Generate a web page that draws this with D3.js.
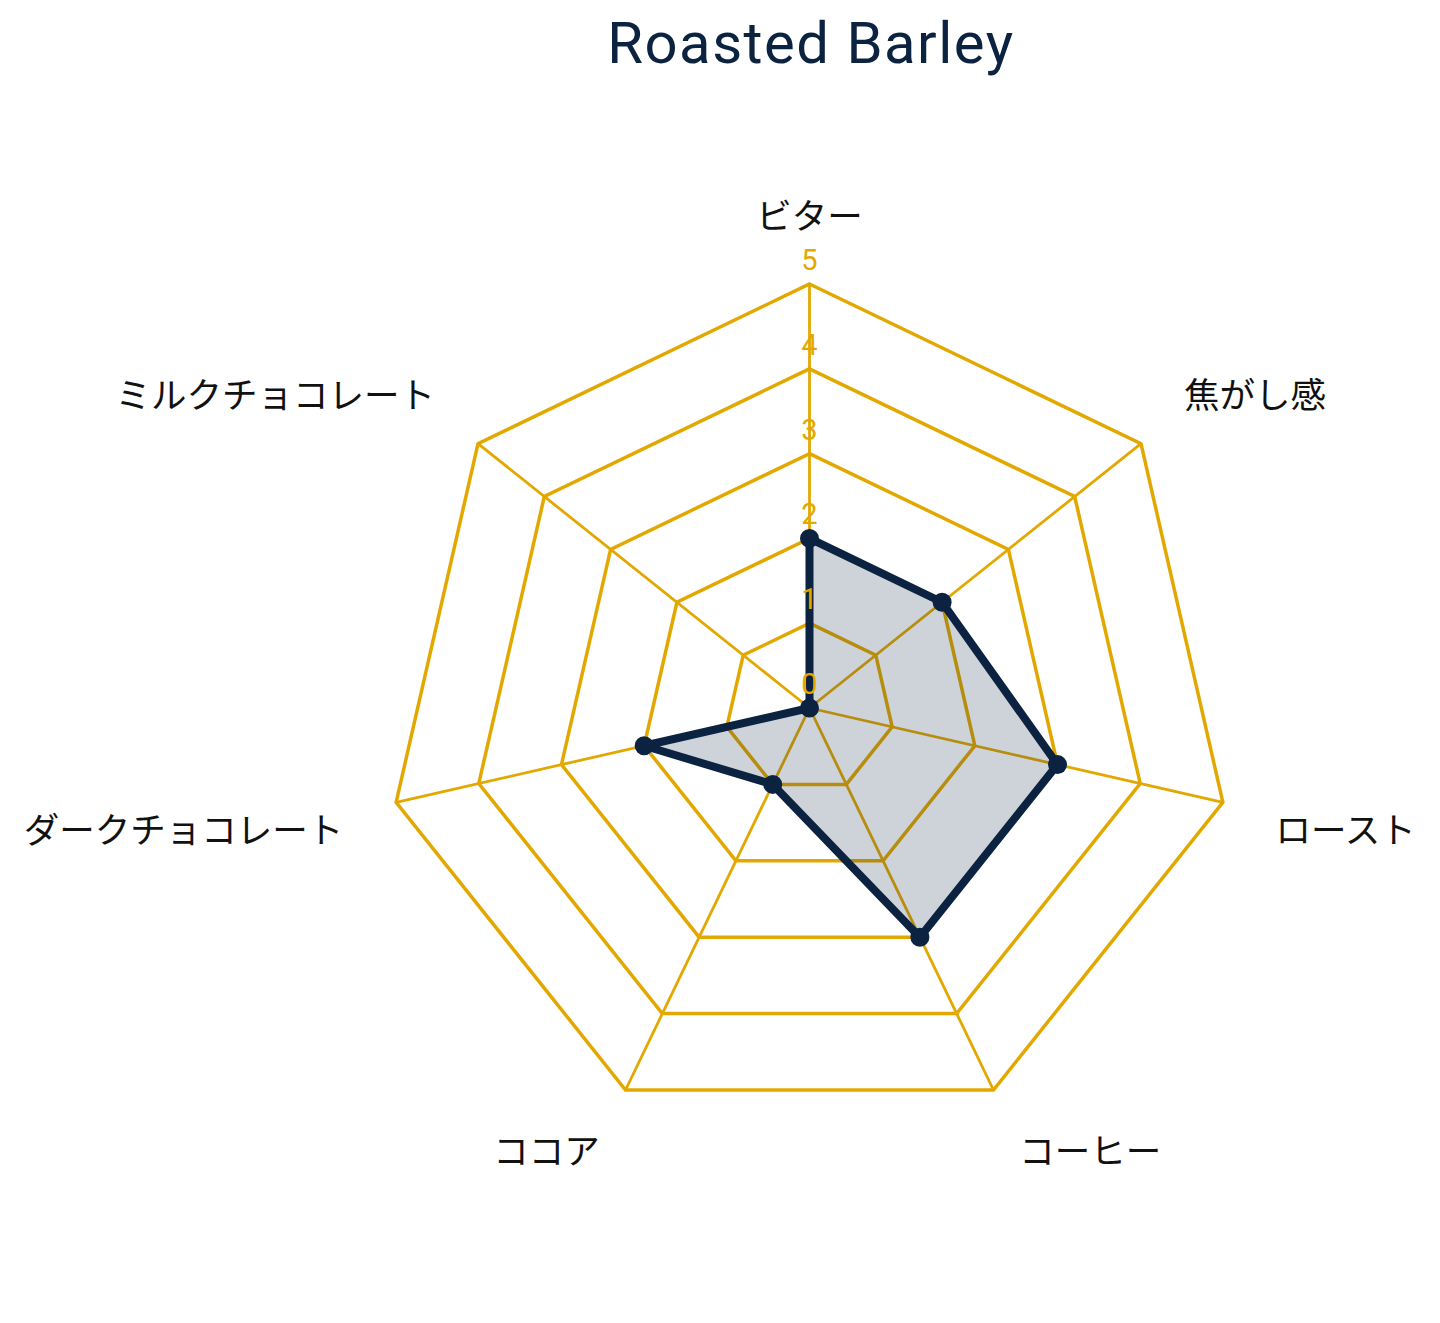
<!DOCTYPE html>
<html>
<head>
<meta charset="utf-8">
<script src="https://cdn.jsdelivr.net/npm/d3@7"></script>
<style>
  body { margin: 0; background: #fff; }
</style>
</head>
<body>
<svg id="chart"></svg>
<script>
// Chart data
const title = "Roasted Barley";
const categories = ["ビター", "焦がし感", "ロースト", "コーヒー", "ココア", "ダークチョコレート", "ミルクチョコレート"];
const values = [2, 2, 3, 3, 1, 2, 0];
const levels = [0, 1, 2, 3, 4, 5];

const width = 1440, height = 1323;
const cx = 809.5, cy = 708, R = 424;
const gold = "#e3a800", navy = "#0b2240";

const svg = d3.select("#chart")
  .attr("width", width)
  .attr("height", height);

const rScale = d3.scaleLinear().domain([0, 5]).range([0, R]);
const angle = d3.scaleLinear().domain([0, categories.length]).range([0, 2 * Math.PI]);

const pt = (i, v) => [cx + rScale(v) * Math.sin(angle(i)), cy - rScale(v) * Math.cos(angle(i))];

const g = svg.append("g");

// rings
g.selectAll(".ring")
  .data(levels.filter(l => l > 0))
  .enter()
  .append("polygon")
  .attr("class", "ring")
  .attr("points", l => categories.map((c, i) => pt(i, l).join(",")).join(" "))
  .attr("fill", "none")
  .attr("stroke", gold)
  .attr("stroke-width", 3.5);

// spokes
g.selectAll(".spoke")
  .data(categories)
  .enter()
  .append("line")
  .attr("x1", cx).attr("y1", cy)
  .attr("x2", (d, i) => pt(i, 5)[0])
  .attr("y2", (d, i) => pt(i, 5)[1])
  .attr("stroke", gold)
  .attr("stroke-width", 2.8);

// data area
const line = d3.line().curve(d3.curveLinearClosed);
const pts = values.map((v, i) => pt(i, v));

g.append("path")
  .attr("d", line(pts))
  .attr("fill", navy)
  .attr("fill-opacity", 0.2)
  .attr("stroke", navy)
  .attr("stroke-width", 8)
  .attr("stroke-linejoin", "round");

g.selectAll(".dot")
  .data(pts)
  .enter()
  .append("circle")
  .attr("cx", d => d[0])
  .attr("cy", d => d[1])
  .attr("r", 9.5)
  .attr("fill", navy);

// radial tick labels
g.selectAll(".tick")
  .data(levels)
  .enter()
  .append("text")
  .attr("x", cx)
  .attr("y", l => cy - rScale(l) - 14)
  .attr("text-anchor", "middle")
  .attr("font-family", "Roboto, sans-serif")
  .attr("font-size", 29)
  .attr("fill", gold)
  .text(l => l);

// category labels: anchored just outside the outer ring
const labelR = 474;
g.selectAll(".cat")
  .data(categories)
  .enter()
  .append("text")
  .attr("x", (d, i) => {
    const s = Math.sin(angle(i));
    return Math.abs(s) < 0.1 ? cx : cx + labelR * s + (s > 0 ? 4 : -4);
  })
  .attr("y", (d, i) => {
    const c = Math.cos(angle(i));
    return cy - labelR * c + (c > 0 ? -17 : 17);
  })
  .attr("dy", "0.35em")
  .attr("text-anchor", (d, i) => {
    const s = Math.sin(angle(i));
    return Math.abs(s) < 0.1 ? "middle" : (s > 0 ? "start" : "end");
  })
  .attr("font-family", "'Noto Sans CJK JP', sans-serif")
  .attr("font-size", 35.5)
  .attr("fill", "#111")
  .text(d => d);

// title
svg.append("text")
  .attr("x", 811)
  .attr("y", 63)
  .attr("text-anchor", "middle")
  .attr("font-family", "Roboto, sans-serif")
  .attr("font-size", 58)
  .attr("letter-spacing", 1.5)
  .attr("fill", navy)
  .text(title);
</script>
</body>
</html>
